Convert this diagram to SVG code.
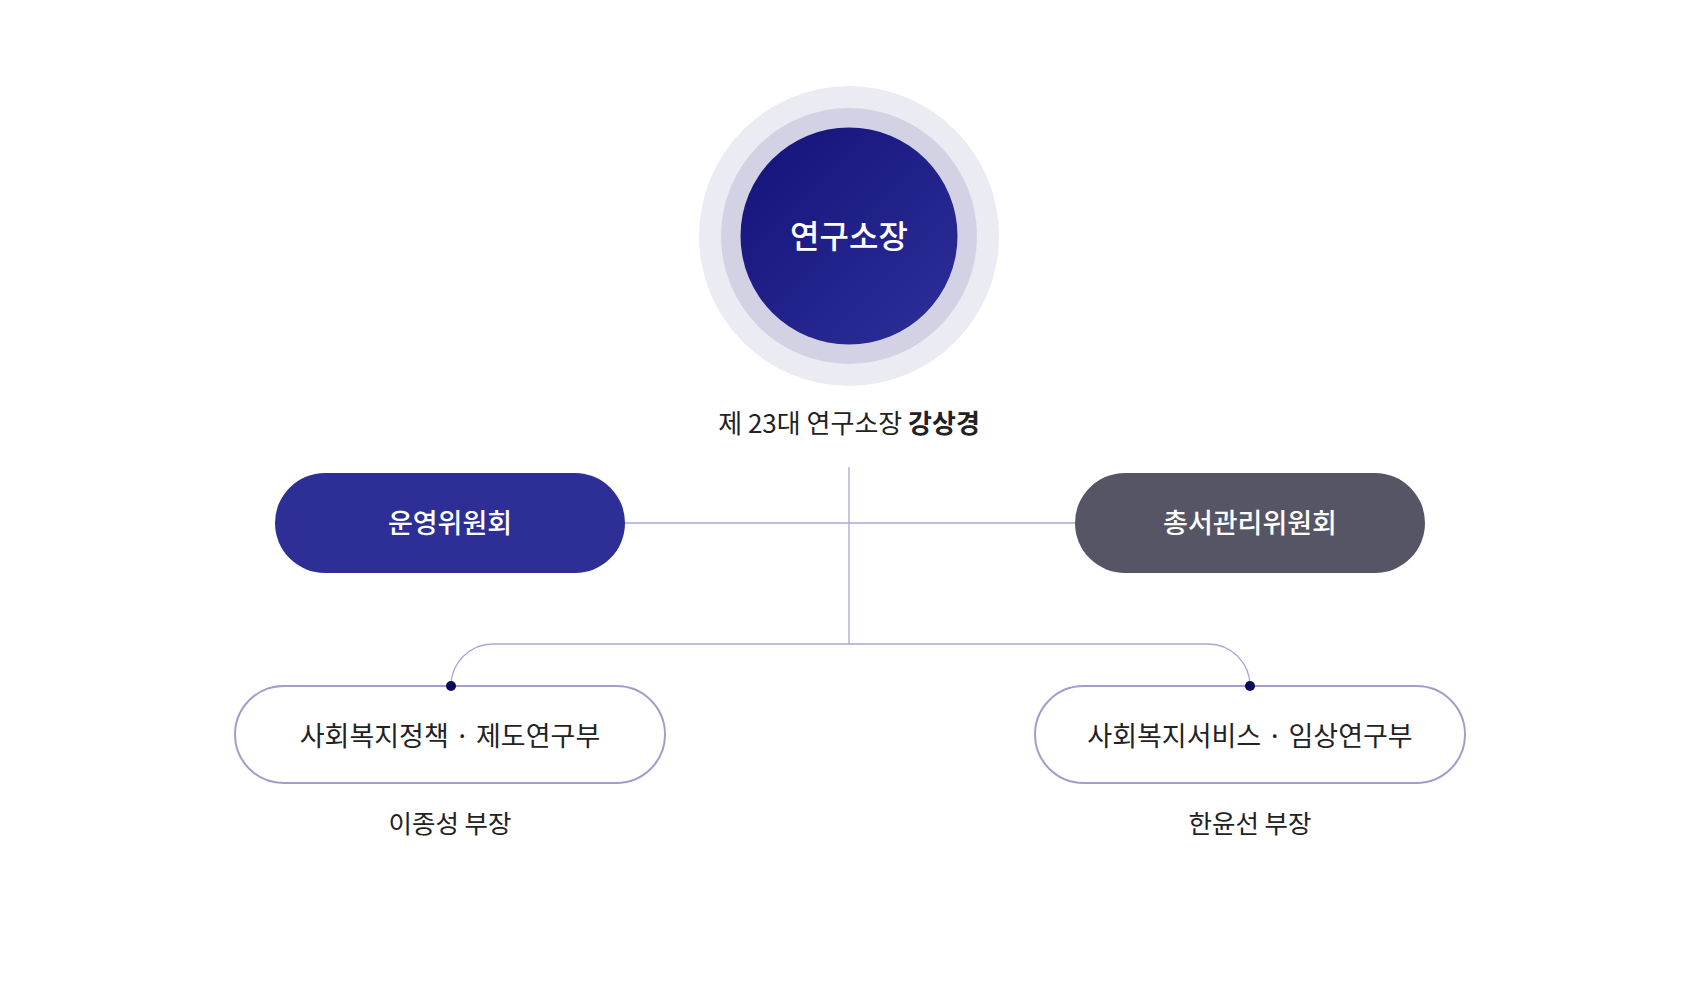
<svg xmlns="http://www.w3.org/2000/svg" width="1700" height="992" viewBox="0 0 1700 992">
<defs>
<linearGradient id="g" x1="0" y1="0" x2="1" y2="1">
<stop offset="0" stop-color="#13127a"/>
<stop offset="1" stop-color="#2f2f99"/>
</linearGradient>
<style>
.t{font-family:"Noto Sans CJK KR","Noto Sans",sans-serif;text-anchor:middle}
.w{fill:#ffffff;font-weight:500}
.d{fill:#222222}
.ln{fill:none;stroke:#a9a7d4;stroke-width:1.3}
.box{fill:#ffffff;stroke:#a09ecf;stroke-width:2}
</style>
</defs>
<rect width="1700" height="992" fill="#ffffff"/>
<g id="connectors">
<line class="ln" x1="849" y1="467" x2="849" y2="644"/>
<line class="ln" x1="625" y1="523" x2="1075" y2="523"/>
<path class="ln" d="M451 686 A42 42 0 0 1 493 644 H1208 A42 42 0 0 1 1250 686"/>
</g>
<g id="director">
<circle cx="849" cy="236" r="150" fill="#ebebf3"/>
<circle cx="849" cy="236" r="128" fill="#d3d2e4"/>
<circle cx="849" cy="236" r="108.5" fill="url(#g)"/>
<text class="t w" x="849" y="248" font-size="32">연구소장</text>
</g>
<g id="director-label">
<text class="t d" x="849" y="433" font-size="26">제 23대 연구소장 <tspan font-weight="700">강상경</tspan></text>
</g>
<g id="operating-committee">
<rect x="275" y="473" width="350" height="100" rx="50" fill="#2d2f97"/>
<text class="t w" x="450" y="533" font-size="27">운영위원회</text>
</g>
<g id="series-committee">
<rect x="1075" y="473" width="350" height="100" rx="50" fill="#565565"/>
<text class="t w" x="1250" y="533" font-size="27">총서관리위원회</text>
</g>
<g id="policy-dept">
<rect class="box" x="235" y="686" width="430" height="97" rx="48.5"/>
<circle cx="451" cy="686" r="5" fill="#0b0b5c"/>
<text class="t d" x="450" y="746" font-size="27">사회복지정책 · 제도연구부</text>
<text class="t d" x="450" y="833" font-size="25.5">이종성 부장</text>
</g>
<g id="service-dept">
<rect class="box" x="1035" y="686" width="430" height="97" rx="48.5"/>
<circle cx="1250" cy="686" r="5" fill="#0b0b5c"/>
<text class="t d" x="1250" y="746" font-size="27">사회복지서비스 · 임상연구부</text>
<text class="t d" x="1250" y="833" font-size="25.5">한윤선 부장</text>
</g>
</svg>
